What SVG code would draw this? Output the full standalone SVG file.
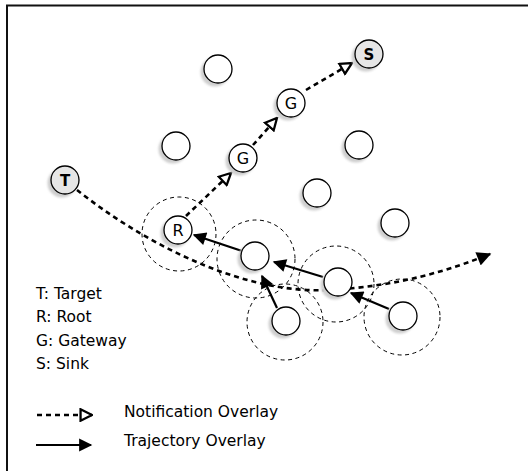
<svg xmlns="http://www.w3.org/2000/svg" width="528" height="471" viewBox="0 0 528 471">
  <style>
    .node circle.body { fill: #ffffff; stroke: #000000; stroke-width: 1.3; }
    .node.special circle.body { fill: #e6e6e6; }
    .shadow { fill: #cfcfcf; filter: url(#soft); }
    .range { fill: none; stroke: #000000; stroke-width: 1; stroke-dasharray: 4 3.5; }
    .lbl { font-family: "DejaVu Sans", sans-serif; font-size: 16px; text-anchor: middle; fill: #000; }
    .lbl.bold { font-weight: bold; font-size: 15px; }
    .notify { fill: none; stroke: #000; stroke-width: 2.6; stroke-dasharray: 5 4; }
    .track { fill: none; stroke: #000; stroke-width: 2.2; }
    .legend { font-family: "DejaVu Sans", sans-serif; font-size: 15.5px; fill: #000; }
  </style>
  <defs>
    <filter id="soft" x="-30%" y="-30%" width="160%" height="160%">
      <feGaussianBlur stdDeviation="1.2"/>
    </filter>
    <marker id="hollow" viewBox="0 0 10 10" refX="9" refY="5" markerWidth="5.5" markerHeight="5.5" markerUnits="strokeWidth" orient="auto">
      <path d="M1,1 L9,5 L1,9 Z" fill="#fff" stroke="#000" stroke-width="1.6"/>
    </marker>
    <marker id="solid" viewBox="0 0 10 10" refX="9" refY="5" markerWidth="6" markerHeight="5.5" markerUnits="strokeWidth" orient="auto">
      <path d="M0,0 L10,5 L0,10 Z" fill="#000"/>
    </marker>
    <marker id="solidTrack" viewBox="0 0 10 10" refX="9" refY="5" markerWidth="7" markerHeight="6" markerUnits="strokeWidth" orient="auto">
      <path d="M0,0 L10,5 L0,10 Z" fill="#000"/>
    </marker>
  </defs>

  <rect width="528" height="471" fill="#ffffff"/>
  <!-- frame: top and left edges -->
  <path d="M7,471 L7,5.5 L528,5.5" fill="none" stroke="#111" stroke-width="2"/>

  <!-- sensing ranges -->
  <g id="ranges">
    <circle class="range" cx="179" cy="234" r="37"/>
    <circle class="range" cx="256" cy="259" r="39"/>
    <circle class="range" cx="336" cy="284" r="38"/>
    <circle class="range" cx="285" cy="322" r="38"/>
    <circle class="range" cx="402" cy="317" r="38"/>
  </g>

  <!-- connectors -->
  <g id="connectors">
    <!-- target path -->
    <path class="notify" d="M77,190 C140,240 240,295 330,290 C400,286 450,270 490,254" marker-end="url(#solid)"/>
    <!-- notification overlay -->
    <path class="notify" d="M186,216 L231,173" marker-end="url(#hollow)"/>
    <path class="notify" d="M253,145 L277,118" marker-end="url(#hollow)"/>
    <path class="notify" d="M306,90 L352,63" marker-end="url(#hollow)"/>
    <!-- trajectory overlay -->
    <path class="track" d="M242,251 L194,235" marker-end="url(#solidTrack)"/>
    <path class="track" d="M323,277 L274,262" marker-end="url(#solidTrack)"/>
    <path class="track" d="M277,308 L262,276" marker-end="url(#solidTrack)"/>
    <path class="track" d="M389,309 L351,293" marker-end="url(#solidTrack)"/>
  </g>

  <!-- nodes -->
  <g id="node-sink" class="node special">
    <circle class="shadow" cx="366" cy="57" r="14.5"/>
    <circle class="body" cx="369" cy="54" r="14"/>
    <text class="lbl bold" x="369" y="59.5">S</text>
  </g>
  <g id="node-a" class="node">
    <circle class="shadow" cx="215" cy="72" r="14.5"/>
    <circle class="body" cx="218" cy="69" r="14"/>
  </g>
  <g id="node-gateway-2" class="node">
    <circle class="shadow" cx="288" cy="106" r="14.5"/>
    <circle class="body" cx="291" cy="103" r="14"/>
    <text class="lbl" x="291" y="109">G</text>
  </g>
  <g id="node-b" class="node">
    <circle class="shadow" cx="173" cy="149" r="14.5"/>
    <circle class="body" cx="176" cy="146" r="14"/>
  </g>
  <g id="node-c" class="node">
    <circle class="shadow" cx="356" cy="148" r="14.5"/>
    <circle class="body" cx="359" cy="145" r="14"/>
  </g>
  <g id="node-gateway-1" class="node">
    <circle class="shadow" cx="240" cy="161" r="14.5"/>
    <circle class="body" cx="243" cy="158" r="14"/>
    <text class="lbl" x="243" y="164">G</text>
  </g>
  <g id="node-target" class="node special">
    <circle class="shadow" cx="62" cy="183" r="14.5"/>
    <circle class="body" cx="65" cy="180" r="14"/>
    <text class="lbl bold" x="65" y="185.5">T</text>
  </g>
  <g id="node-d" class="node">
    <circle class="shadow" cx="314" cy="196" r="14.5"/>
    <circle class="body" cx="317" cy="193" r="14"/>
  </g>
  <g id="node-e" class="node">
    <circle class="shadow" cx="392" cy="226" r="14.5"/>
    <circle class="body" cx="395" cy="223" r="14"/>
  </g>
  <g id="node-root" class="node">
    <circle class="shadow" cx="175" cy="233" r="14.5"/>
    <circle class="body" cx="178" cy="230" r="14"/>
    <text class="lbl" x="178" y="236">R</text>
  </g>
  <g id="node-f" class="node">
    <circle class="shadow" cx="252" cy="259" r="14.5"/>
    <circle class="body" cx="255" cy="256" r="14"/>
  </g>
  <g id="node-g" class="node">
    <circle class="shadow" cx="335" cy="285" r="14.5"/>
    <circle class="body" cx="338" cy="282" r="14"/>
  </g>
  <g id="node-h" class="node">
    <circle class="shadow" cx="283" cy="324" r="14.5"/>
    <circle class="body" cx="286" cy="321" r="14"/>
  </g>
  <g id="node-i" class="node">
    <circle class="shadow" cx="400" cy="319" r="14.5"/>
    <circle class="body" cx="403" cy="316" r="14"/>
  </g>

  <!-- legend -->
  <g id="legend">
    <text class="legend" x="36" y="299">T: Target</text>
    <text class="legend" x="36" y="322">R: Root</text>
    <text class="legend" x="36" y="346">G: Gateway</text>
    <text class="legend" x="36" y="369">S: Sink</text>
    <path class="notify" d="M37,415 L92,415" marker-end="url(#hollow)"/>
    <text class="legend" x="124" y="417">Notification Overlay</text>
    <path class="track" d="M36,445 L91,445" marker-end="url(#solidTrack)"/>
    <text class="legend" x="124" y="446">Trajectory Overlay</text>
  </g>
</svg>
